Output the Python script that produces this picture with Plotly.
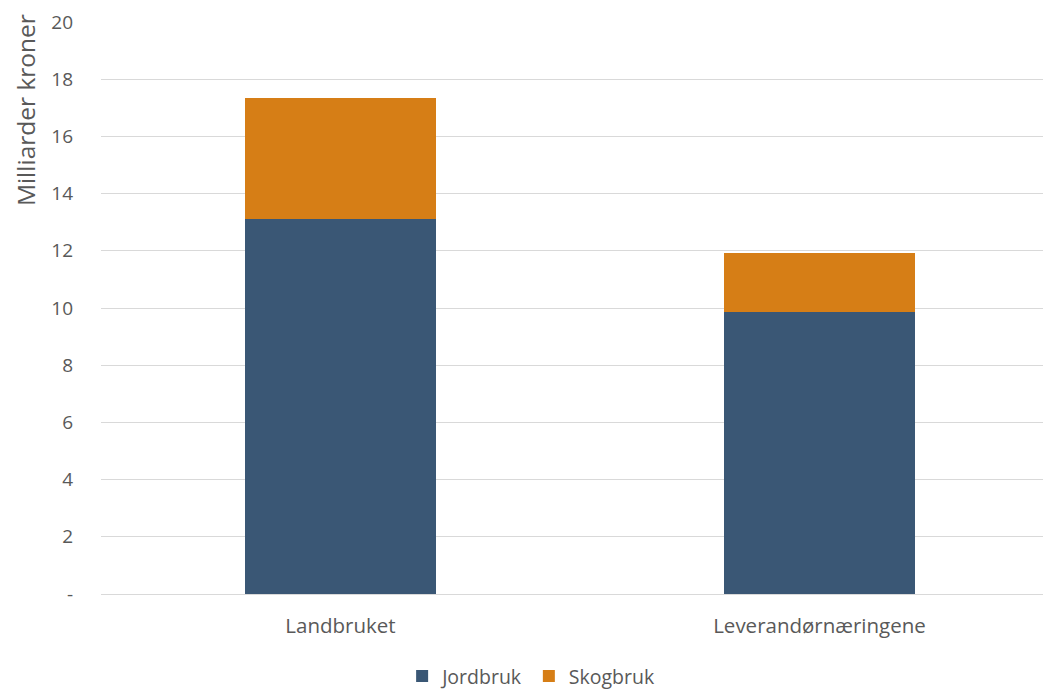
import plotly.graph_objects as go

kategorier = ['Landbruket', 'Leverandørnæringene']
jordbruk = [13.1, 9.86]
skogbruk = [4.24, 2.08]
y_ticks = [0, 2, 4, 6, 8, 10, 12, 14, 16, 18, 20]
y_labels = ['-', '2', '4', '6', '8', '10', '12', '14', '16', '18', '20']

FONT = 'Open Sans, Liberation Sans, sans-serif'
GREY = '#595959'

fig = go.Figure()
fig.add_trace(go.Bar(
    x=kategorier, y=jordbruk, name='Jordbruk',
    marker=dict(color='#3A5775', line=dict(width=0)),
))
fig.add_trace(go.Bar(
    x=kategorier, y=skogbruk, name='Skogbruk',
    marker=dict(color='#D67E16', line=dict(width=0)),
))

# y-aksetittel plassert øverst langs aksen, som i Excel
fig.add_annotation(
    text='Milliarder kroner', textangle=-90,
    xref='paper', yref='paper', x=-0.0793, y=0.846,
    xanchor='center', yanchor='middle', showarrow=False,
    font=dict(size=24.5, color=GREY),
)

fig.update_layout(
    barmode='stack',
    bargap=0.6,
    width=1051, height=689,
    margin=dict(l=93, r=0, t=14, b=103, autoexpand=False),
    plot_bgcolor='white',
    paper_bgcolor='white',
    font=dict(family=FONT, size=19, color=GREY),
    showlegend=True,
    legend=dict(
        orientation='h', xref='container', x=0.375, xanchor='left',
        yref='container', y=0.03, yanchor='middle',
        font=dict(size=19.5, color=GREY), traceorder='normal',
        itemwidth=30,
    ),
    xaxis=dict(
        showgrid=False, showline=False, ticks='', automargin=False,
        tickfont=dict(size=20.5, color=GREY), ticklabelstandoff=17,
    ),
    yaxis=dict(
        range=[0, 20], tickvals=y_ticks, ticktext=y_labels,
        showgrid=True, gridcolor='#D9D9D9', gridwidth=1,
        zeroline=True, zerolinecolor='#D9D9D9', zerolinewidth=1,
        ticks='', ticklabelstandoff=27, automargin=False,
        tickfont=dict(size=19, color=GREY),
    ),
)

fig.write_html('out.html')
